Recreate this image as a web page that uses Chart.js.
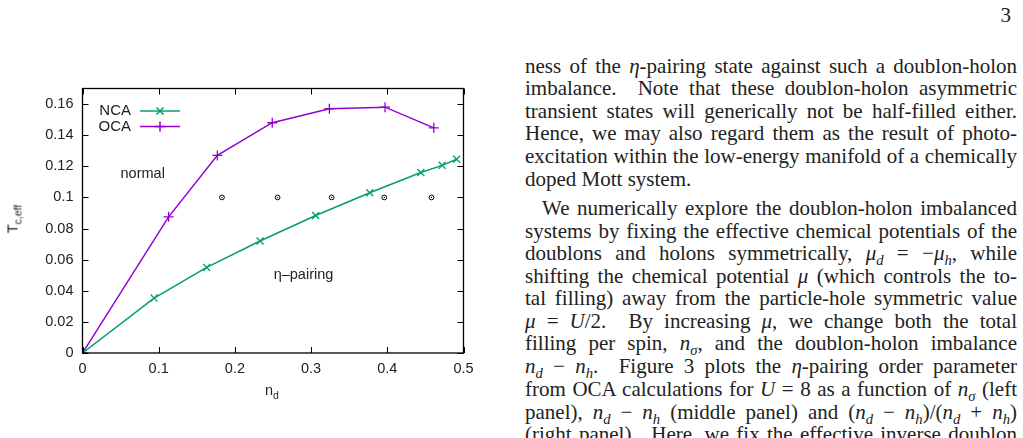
<!DOCTYPE html>
<html>
<head>
<meta charset="utf-8">
<script src="https://cdn.jsdelivr.net/npm/chart.js@4.4.0/dist/chart.umd.min.js"></script>
<style>
    html, body { margin: 0; padding: 0; background: #fff; width: 1023px; height: 438px; overflow: hidden; }
    #plot { position: absolute; left: 0; top: 0; }
    .ax { position: absolute; font-family: "Liberation Sans", Arial, sans-serif; font-size: 14.5px; color: #222; white-space: nowrap; }
    .ax sub { font-size: 10.5px; vertical-align: -4px; }
    .page { position: absolute; left: 525px; top: 0; width: 492px; height: 438px; font-family: "Liberation Serif", serif; font-size: 19px; color: #222; }
    .ln { position: absolute; left: 0; width: 492px; text-align: justify; text-align-last: justify; line-height: 22px; }
    .ln.last { text-align-last: left; }
    .ln.ind { left: 17px; width: 475px; }
    .ln sub { font-size: 0.7em; line-height: 0; }
    .pnum { position: absolute; right: 6px; top: 3px; }
</style>
</head>
<body>
<canvas id="plot" width="490" height="438"></canvas>
<div class="ax" style="left:272px; top:391px; transform: translate(-50%, -50%);">n<sub>d</sub></div>
<div class="ax" style="left:14px; top:219px; transform: translate(-50%, -50%) rotate(-90deg);">T<sub>c,eff</sub></div>

<div class="page" id="page">
    <div class="pnum">3</div>
    <div class="ln" style="top:55px;">ness of the <i>η</i>-pairing state against such a doublon-holon</div>
    <div class="ln" style="top:77px;">imbalance. &nbsp;Note that these doublon-holon asymmetric</div>
    <div class="ln" style="top:100px;">transient states will generically not be half-filled either.</div>
    <div class="ln" style="top:122px;">Hence, we may also regard them as the result of photo-</div>
    <div class="ln" style="top:145px;">excitation within the low-energy manifold of a chemically</div>
    <div class="ln last" style="top:168px;">doped Mott system.</div>
    <div class="ln ind" style="top:197px;">We numerically explore the doublon-holon imbalanced</div>
    <div class="ln" style="top:220px;">systems by fixing the effective chemical potentials of the</div>
    <div class="ln" style="top:242px;">doublons and holons symmetrically, <i>μ<sub>d</sub></i> = −<i>μ<sub>h</sub></i>, while</div>
    <div class="ln" style="top:265px;">shifting the chemical potential <i>μ</i> (which controls the to-</div>
    <div class="ln" style="top:287px;">tal filling) away from the particle-hole symmetric value</div>
    <div class="ln" style="top:310px;"><i>μ</i> = <i>U</i>/2. &nbsp;By increasing <i>μ</i>, we change both the total</div>
    <div class="ln" style="top:332px;">filling per spin, <i>n<sub>σ</sub></i>, and the doublon-holon imbalance</div>
    <div class="ln" style="top:355px;"><i>n<sub>d</sub></i> − <i>n<sub>h</sub></i>. &nbsp;Figure 3 plots the <i>η</i>-pairing order parameter</div>
    <div class="ln" style="top:378px;">from OCA calculations for <i>U</i> = 8 as a function of <i>n<sub>σ</sub></i> (left</div>
    <div class="ln" style="top:401px;">panel), <i>n<sub>d</sub></i> − <i>n<sub>h</sub></i> (middle panel) and (<i>n<sub>d</sub></i> − <i>n<sub>h</sub></i>)/(<i>n<sub>d</sub></i> + <i>n<sub>h</sub></i>)</div>
    <div class="ln" style="top:423px;">(right panel). &nbsp;Here, we fix the effective inverse doublon</div>
</div>

<script>
// values
const ncaX = [0, 0.094, 0.163, 0.233, 0.306, 0.377, 0.444, 0.472, 0.491];
const ncaY = [0, 0.0353, 0.055, 0.072, 0.0884, 0.103, 0.116, 0.1206, 0.1245];
const ocaX = [0, 0.113, 0.177, 0.249, 0.324, 0.397, 0.461];
const ocaY = [0, 0.0875, 0.127, 0.148, 0.157, 0.158, 0.1447];
const ringX = [0.183, 0.256, 0.327, 0.396, 0.458];
const ringY = [0.1, 0.1, 0.1, 0.1, 0.1];

const xTicks = [0, 0.1, 0.2, 0.3, 0.4, 0.5];
const xTickLabels = ['0', '0.1', '0.2', '0.3', '0.4', '0.5'];
const yTicks = [0, 0.02, 0.04, 0.06, 0.08, 0.1, 0.12, 0.14, 0.16];
const yTickLabels = ['0', '0.02', '0.04', '0.06', '0.08', '0.1', '0.12', '0.14', '0.16'];

const GREEN = '#009e73';
const PURPLE = '#9400d3';
const FONT = '"Liberation Sans", Arial, sans-serif';

function toPoints(xs, ys) {
    return xs.map((x, i) => ({ x: x, y: ys[i] }));
}

// pick the largest font size at which every justified line still fits its width
function fitText() {
    const page = document.getElementById('page');
    const lines = Array.from(page.querySelectorAll('.ln:not(.last)'));
    let size = 24;
    for (; size > 15; size -= 0.25) {
        page.style.fontSize = size + 'px';
        const fits = lines.every(ln => {
            const avail = ln.clientWidth;
            ln.style.width = 'auto';
            ln.style.whiteSpace = 'nowrap';
            const w = ln.scrollWidth;
            ln.style.width = '';
            ln.style.whiteSpace = '';
            return w <= avail - 2;
        });
        if (fits) break;
    }
}
fitText();

// gnuplot-like frame: full box, inward ticks, legend, region labels
const gnuplotFrame = {
    id: 'gnuplotFrame',
    afterDatasetsDraw(chart) {
        const ctx = chart.ctx;
        const a = chart.chartArea;
        const xs = chart.scales.x;
        const ys = chart.scales.y;
        const tl = 6;

        ctx.save();
        ctx.strokeStyle = '#000';
        ctx.lineWidth = 1;
        ctx.beginPath();
        xTicks.forEach(v => {
            const px = Math.round(xs.getPixelForValue(v)) + 0.5;
            ctx.moveTo(px, a.bottom); ctx.lineTo(px, a.bottom - tl);
            ctx.moveTo(px, a.top); ctx.lineTo(px, a.top + tl);
        });
        yTicks.forEach(v => {
            const py = Math.round(ys.getPixelForValue(v)) + 0.5;
            ctx.moveTo(a.left, py); ctx.lineTo(a.left + tl, py);
            ctx.moveTo(a.right, py); ctx.lineTo(a.right - tl, py);
        });
        ctx.stroke();
        ctx.lineWidth = 1.3;
        ctx.strokeRect(a.left, a.top, a.right - a.left, a.bottom - a.top);

        // tiny dot inside each boundary ring
        ctx.fillStyle = '#000';
        ringX.forEach((x, i) => {
            ctx.beginPath();
            ctx.arc(xs.getPixelForValue(x), ys.getPixelForValue(ringY[i]), 0.7, 0, Math.PI * 2);
            ctx.fill();
        });

        // region labels
        ctx.fillStyle = '#222';
        ctx.font = '14.5px ' + FONT;
        ctx.textAlign = 'center';
        ctx.textBaseline = 'middle';
        ctx.fillText('normal', xs.getPixelForValue(0.079), ys.getPixelForValue(0.1153));
        ctx.fillText('η–pairing', xs.getPixelForValue(0.29), ys.getPixelForValue(0.0499));

        // legend
        const entries = [
            { label: 'NCA', color: GREEN, style: 'crossRot', y: 111 },
            { label: 'OCA', color: PURPLE, style: 'cross', y: 126.5 }
        ];
        ctx.font = '15px ' + FONT;
        ctx.textAlign = 'right';
        entries.forEach(e => {
            ctx.fillStyle = '#222';
            ctx.fillText(e.label, 131, e.y);
            ctx.strokeStyle = e.color;
            ctx.lineWidth = 1.5;
            ctx.beginPath();
            ctx.moveTo(140, e.y); ctx.lineTo(180, e.y);
            ctx.stroke();
            Chart.helpers.drawPoint(ctx, { pointStyle: e.style, radius: 5, borderWidth: 1.3, rotation: 0 }, 160, e.y);
        });
        ctx.restore();
    }
};

new Chart(document.getElementById('plot'), {
    type: 'scatter',
    data: {
        datasets: [
            {
                label: 'NCA',
                data: toPoints(ncaX, ncaY),
                showLine: true,
                borderColor: GREEN,
                backgroundColor: GREEN,
                borderWidth: 1.5,
                pointStyle: 'crossRot',
                pointRadius: 5,
                pointBorderWidth: 1.3
            },
            {
                label: 'OCA',
                data: toPoints(ocaX, ocaY),
                showLine: true,
                borderColor: PURPLE,
                backgroundColor: PURPLE,
                borderWidth: 1.5,
                pointStyle: 'cross',
                pointRadius: 5,
                pointBorderWidth: 1.3
            },
            {
                label: 'boundary',
                data: toPoints(ringX, ringY),
                showLine: false,
                borderColor: '#000',
                backgroundColor: 'rgba(0,0,0,0)',
                pointStyle: 'circle',
                pointRadius: 2.4,
                pointBorderWidth: 1
            }
        ]
    },
    options: {
        responsive: false,
        animation: false,
        devicePixelRatio: 1,
        layout: { padding: { left: 0, top: 88.5, right: 26.5, bottom: 45 } },
        plugins: {
            legend: { display: false },
            tooltip: { enabled: false }
        },
        scales: {
            x: {
                type: 'linear',
                min: 0,
                max: 0.5,
                afterBuildTicks: s => { s.ticks = xTicks.map(v => ({ value: v })); },
                afterFit: s => { s.height = 40; },
                ticks: {
                    padding: 7,
                    color: '#222',
                    font: { family: FONT, size: 14.5 },
                    maxRotation: 0,
                    callback: (v, i) => xTickLabels[i]
                },
                grid: { display: false, drawTicks: false },
                border: { display: false }
            },
            y: {
                type: 'linear',
                min: 0,
                max: 0.17,
                afterBuildTicks: s => { s.ticks = yTicks.map(v => ({ value: v })); },
                afterFit: s => { s.width = 82.5; },
                ticks: {
                    padding: 9,
                    color: '#222',
                    font: { family: FONT, size: 14.5 },
                    callback: (v, i) => yTickLabels[i]
                },
                grid: { display: false, drawTicks: false },
                border: { display: false }
            }
        }
    },
    plugins: [gnuplotFrame]
});
</script>
</body>
</html>
